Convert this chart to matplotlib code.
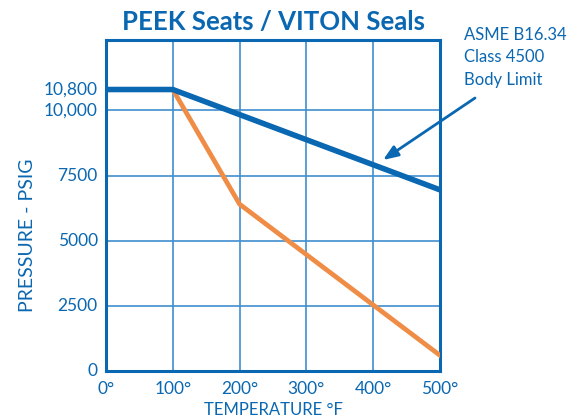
import matplotlib
matplotlib.use("Agg")
import matplotlib.pyplot as plt

plt.rcParams['font.family'] = ['Lato', 'DejaVu Sans']

temps_body = [0, 100, 500]
body_limit = [10800, 10800, 6950]
temps_seat = [0, 100, 200, 500]
seat_limit = [10800, 10800, 6400, 600]

x_ticks = [0, 100, 200, 300, 400, 500]
x_labels = ["0°", "100°", "200°", "300°", "400°", "500°"]
y_ticks = [0, 2500, 5000, 7500, 10000, 10800]
y_labels = ["0", "2500", "5000", "7500", "10,000", "10,800"]
grid_y = [2500, 5000, 7500, 10000]
grid_x = [100, 200, 300, 400]
note_lines = ["ASME B16.34", "Class 4500", "Body Limit"]

BLUE = "#0a67b1"
GRID = "#3f8fd0"
ORANGE = "#ef8c45"

fig = plt.figure(figsize=(5.69, 4.19), dpi=100)
ax = fig.add_axes([106/569, 1-371/419, 334/569, 331/419])
ax.set_xlim(0, 500)
ax.set_ylim(0, 12700)

for g in grid_y:
    ax.axhline(g, color=GRID, lw=1.2, zorder=1)
for g in grid_x:
    ax.axvline(g, color=GRID, lw=1.2, zorder=1)

ax.plot(temps_seat, seat_limit, color=ORANGE, lw=3.4, zorder=3, solid_joinstyle='miter')
ax.plot(temps_body, body_limit, color=BLUE, lw=4.0, zorder=4, solid_joinstyle='miter')

for s in ax.spines.values():
    s.set_color(BLUE)
    s.set_linewidth(2.2)

ax.set_xticks(x_ticks)
ax.set_xticklabels(x_labels)
ax.set_yticks(y_ticks)
ax.set_yticklabels(y_labels)
ax.tick_params(length=0, colors=BLUE, labelsize=12.5)
ax.tick_params(axis='x', pad=7)
ax.tick_params(axis='y', pad=6)
for lbl in ax.get_yticklabels():
    lbl.set_va('center')

ax.set_xlabel("TEMPERATURE °F", color=BLUE, fontsize=12, labelpad=4)
ax.set_ylabel("PRESSURE - PSIG", color=BLUE, fontsize=14)
ax.yaxis.set_label_coords(-0.21, 0.41)
ax.set_title("PEEK Seats / VITON Seals", color=BLUE, fontsize=18.5, fontweight='bold', pad=7)


def fp(x, y):
    return (x/569, 1-y/419)


ax.annotate("", xy=fp(383, 160), xycoords='figure fraction',
            xytext=fp(475, 98), textcoords='figure fraction',
            arrowprops=dict(arrowstyle="-|>,head_length=0.9,head_width=0.35",
                            color=BLUE, lw=2, shrinkA=0, shrinkB=0))

for i, t in enumerate(note_lines):
    fig.text(464/569, 1-(35+22.5*i)/419, t, color=BLUE, fontsize=12,
             va='center', ha='left')

fig.savefig("out.png", dpi=100)
